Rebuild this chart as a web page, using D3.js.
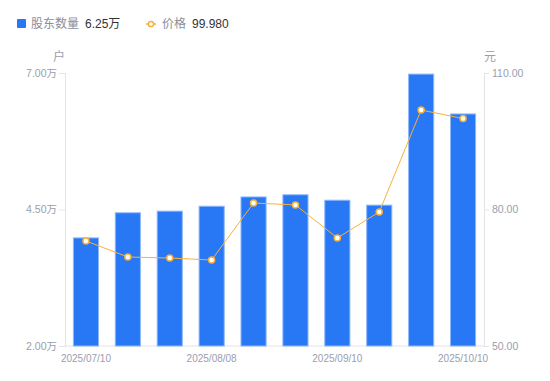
<!DOCTYPE html>
<html>
<head>
<meta charset="utf-8">
<script src="https://cdn.jsdelivr.net/npm/d3@7"></script>
<style>
  body { margin: 0; background: #fff; font-family: "Noto Sans CJK SC", "Noto Sans", sans-serif; }
</style>
</head>
<body>
<div id="chart"></div>
<script>
var dates = ["2025/07/10", "2025/07/18", "2025/07/31", "2025/08/08", "2025/08/20",
             "2025/08/29", "2025/09/10", "2025/09/19", "2025/09/30", "2025/10/10"];
var holders = [3.98, 4.44, 4.47, 4.56, 4.73, 4.77, 4.67, 4.58, 6.98, 6.25]; // 万户
var prices = [73.08, 69.56, 69.34, 68.9, 81.43, 81.0, 73.74, 79.45, 101.87, 99.98];
var leftTicks = [2, 4.5, 7];
var rightTicks = [50, 80, 110];
var xLabelIdx = [0, 3, 6, 9];

var w = 550, h = 381;
var plotLeft = 65, plotRight = 484, plotTop = 73, plotBottom = 346;
var axisColor = "#9a9eae";
var barColor = "#2878f5";
var lineColor = "#f7b23b";
var numFont = "'Liberation Sans', Arial, sans-serif";

var svg = d3.select("#chart").append("svg")
    .attr("width", w)
    .attr("height", h)
    .style("font-family", "'Noto Sans CJK SC', 'Noto Sans', sans-serif");

var x = d3.scaleBand().domain(dates).range([plotLeft, plotRight]).paddingInner(0.4).paddingOuter(0.2);
var yL = d3.scaleLinear().domain([2, 7]).range([plotBottom, plotTop]);
var yR = d3.scaleLinear().domain([50, 110]).range([plotBottom, plotTop]);

// axes
var gl = svg.append("g").attr("transform", "translate(" + plotLeft + ",0)")
    .call(d3.axisLeft(yL).tickValues(leftTicks).tickSize(6).tickPadding(2)
      .tickFormat(function(d) { return d.toFixed(2) + "万"; }));
var gr = svg.append("g").attr("transform", "translate(" + plotRight + ",0)")
    .call(d3.axisRight(yR).tickValues(rightTicks).tickSize(5).tickPadding(3)
      .tickFormat(function(d) { return d.toFixed(2); }));
[gl, gr].forEach(function(g) {
  g.select(".domain").attr("stroke", "#e3e4e8");
  g.selectAll(".tick line").attr("stroke", "#e3e4e8");
  g.selectAll(".tick text").attr("fill", axisColor).style("font-size", "10.5px")
    .style("font-family", "'Liberation Sans', Arial, 'Noto Sans CJK SC', sans-serif");
});

svg.append("line")
    .attr("x1", plotLeft).attr("x2", plotRight)
    .attr("y1", plotBottom).attr("y2", plotBottom)
    .attr("stroke", "#e3e4e8");

svg.selectAll("text.xlab").data(xLabelIdx).enter().append("text")
    .attr("class", "xlab")
    .attr("x", function(i) { return x(dates[i]) + x.bandwidth() / 2; })
    .attr("y", plotBottom + 16)
    .attr("text-anchor", "middle")
    .attr("fill", axisColor)
    .style("font-size", "10px")
    .style("font-family", numFont)
    .text(function(i) { return dates[i]; });

// unit labels
svg.append("text").attr("x", 59).attr("y", 61).attr("text-anchor", "middle")
    .attr("fill", axisColor).style("font-size", "12px").text("户");
svg.append("text").attr("x", 490).attr("y", 61).attr("text-anchor", "middle")
    .attr("fill", axisColor).style("font-size", "12px").text("元");

// bars
svg.selectAll("rect.bar").data(holders).enter().append("rect")
    .attr("class", "bar")
    .attr("x", function(d, i) { return x(dates[i]); })
    .attr("y", function(d) { return yL(d); })
    .attr("width", x.bandwidth())
    .attr("height", function(d) { return plotBottom - yL(d); })
    .attr("fill", barColor)
    .attr("stroke", "#8fb8fb")
    .attr("stroke-width", 1);

// price line
var line = d3.line()
    .x(function(d, i) { return x(dates[i]) + x.bandwidth() / 2; })
    .y(function(d) { return yR(d); });
svg.append("path").datum(prices)
    .attr("d", line)
    .attr("fill", "none")
    .attr("stroke", lineColor)
    .attr("stroke-width", 1);
svg.selectAll("circle.pt").data(prices).enter().append("circle")
    .attr("class", "pt")
    .attr("cx", function(d, i) { return x(dates[i]) + x.bandwidth() / 2; })
    .attr("cy", function(d) { return yR(d); })
    .attr("r", 3)
    .attr("fill", "#fff")
    .attr("stroke", lineColor)
    .attr("stroke-width", 1.5);

// legend
var lg = svg.append("g").style("font-size", "12px");
lg.append("rect").attr("x", 17).attr("y", 19).attr("width", 9).attr("height", 9)
    .attr("rx", 1).attr("fill", barColor);
lg.append("text").attr("x", 31).attr("y", 28).attr("fill", "#8a8e9c").text("股东数量");
lg.append("text").attr("x", 85).attr("y", 28).attr("fill", "#333")
    .style("font-family", "'Liberation Sans', Arial, 'Noto Sans CJK SC', sans-serif")
    .text(d3.format(".2f")(holders[9]) + "万");
lg.append("line").attr("x1", 146).attr("x2", 156).attr("y1", 24).attr("y2", 24)
    .attr("stroke", lineColor).attr("stroke-width", 1.5);
lg.append("circle").attr("cx", 151).attr("cy", 24).attr("r", 2.6)
    .attr("fill", "#fff").attr("stroke", lineColor).attr("stroke-width", 1.5);
lg.append("text").attr("x", 162).attr("y", 28).attr("fill", "#8a8e9c").text("价格");
lg.append("text").attr("x", 192).attr("y", 28).attr("fill", "#333")
    .style("font-family", numFont)
    .text(d3.format(".3f")(prices[9]));
</script>
</body>
</html>
